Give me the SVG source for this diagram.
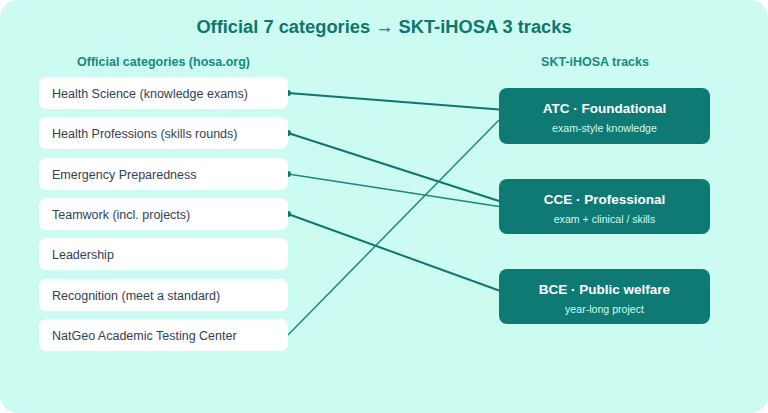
<svg xmlns="http://www.w3.org/2000/svg" width="768" height="413" viewBox="0 0 768 413">
<style>
.bg{fill:#ccfbf1}
.title{font-family:"Liberation Sans",Arial,sans-serif;font-weight:bold;font-size:18.3px;fill:#0f766e;text-anchor:middle}
.hdr{font-family:"Liberation Sans",Arial,sans-serif;font-weight:bold;font-size:12.5px;fill:#148a80;text-anchor:middle}
.cat rect{fill:#ffffff}
.cat text{font-family:"Liberation Sans",Arial,sans-serif;font-size:12.5px;fill:#334155}
.trk rect{fill:#0f7a74}
.trk .t1{font-family:"Liberation Sans",Arial,sans-serif;font-weight:bold;font-size:13.5px;fill:#ffffff;text-anchor:middle}
.trk .t2{font-family:"Liberation Sans",Arial,sans-serif;font-size:10.6px;fill:#ccfbf1;text-anchor:middle}
.ln{stroke:#0f766e;fill:none;stroke-width:2}
.ln2{stroke:#1a8a80;fill:none;stroke-width:1.5}
.dot{fill:#0f766e}
</style>
<rect class="bg" x="0" y="0" width="768" height="413" rx="18"/>
<text class="title" x="384" y="33">Official 7 categories → SKT-iHOSA 3 tracks</text>
<text class="hdr" x="163.5" y="65.5">Official categories (hosa.org)</text>
<text class="hdr" x="595" y="65.5">SKT-iHOSA tracks</text>

<g id="connectors">
<line class="ln" x1="288" y1="93" x2="499" y2="109.5"/>
<circle class="dot" cx="288" cy="93" r="3"/>
<line class="ln" x1="288" y1="133" x2="499" y2="201"/>
<circle class="dot" cx="288" cy="133" r="3"/>
<line class="ln2" x1="288" y1="174" x2="499" y2="206.5"/>
<circle class="dot" cx="288" cy="174" r="3"/>
<line class="ln" x1="288" y1="214" x2="499" y2="290.5"/>
<circle class="dot" cx="288" cy="214" r="3"/>
<line class="ln2" x1="288" y1="335" x2="499" y2="120"/>
</g>

<g id="cat-health-science" class="cat"><rect x="39" y="77" width="249" height="32" rx="7"/><text x="52" y="98">Health Science (knowledge exams)</text></g>
<g id="cat-health-professions" class="cat"><rect x="39" y="117" width="249" height="32" rx="7"/><text x="52" y="138">Health Professions (skills rounds)</text></g>
<g id="cat-emergency" class="cat"><rect x="39" y="158" width="249" height="32" rx="7"/><text x="52" y="179">Emergency Preparedness</text></g>
<g id="cat-teamwork" class="cat"><rect x="39" y="198" width="249" height="32" rx="7"/><text x="52" y="219">Teamwork (incl. projects)</text></g>
<g id="cat-leadership" class="cat"><rect x="39" y="238" width="249" height="32" rx="7"/><text x="52" y="259">Leadership</text></g>
<g id="cat-recognition" class="cat"><rect x="39" y="279" width="249" height="32" rx="7"/><text x="52" y="300">Recognition (meet a standard)</text></g>
<g id="cat-natgeo" class="cat"><rect x="39" y="319" width="249" height="32" rx="7"/><text x="52" y="340">NatGeo Academic Testing Center</text></g>

<g id="track-atc" class="trk"><rect x="499" y="88" width="211" height="56" rx="8"/><text class="t1" x="604.5" y="113">ATC · Foundational</text><text class="t2" x="604.5" y="132">exam-style knowledge</text></g>
<g id="track-cce" class="trk"><rect x="499" y="179" width="211" height="55" rx="8"/><text class="t1" x="604.5" y="204">CCE · Professional</text><text class="t2" x="604.5" y="223">exam + clinical / skills</text></g>
<g id="track-bce" class="trk"><rect x="499" y="269" width="211" height="55" rx="8"/><text class="t1" x="604.5" y="294">BCE · Public welfare</text><text class="t2" x="604.5" y="313">year-long project</text></g>
</svg>
